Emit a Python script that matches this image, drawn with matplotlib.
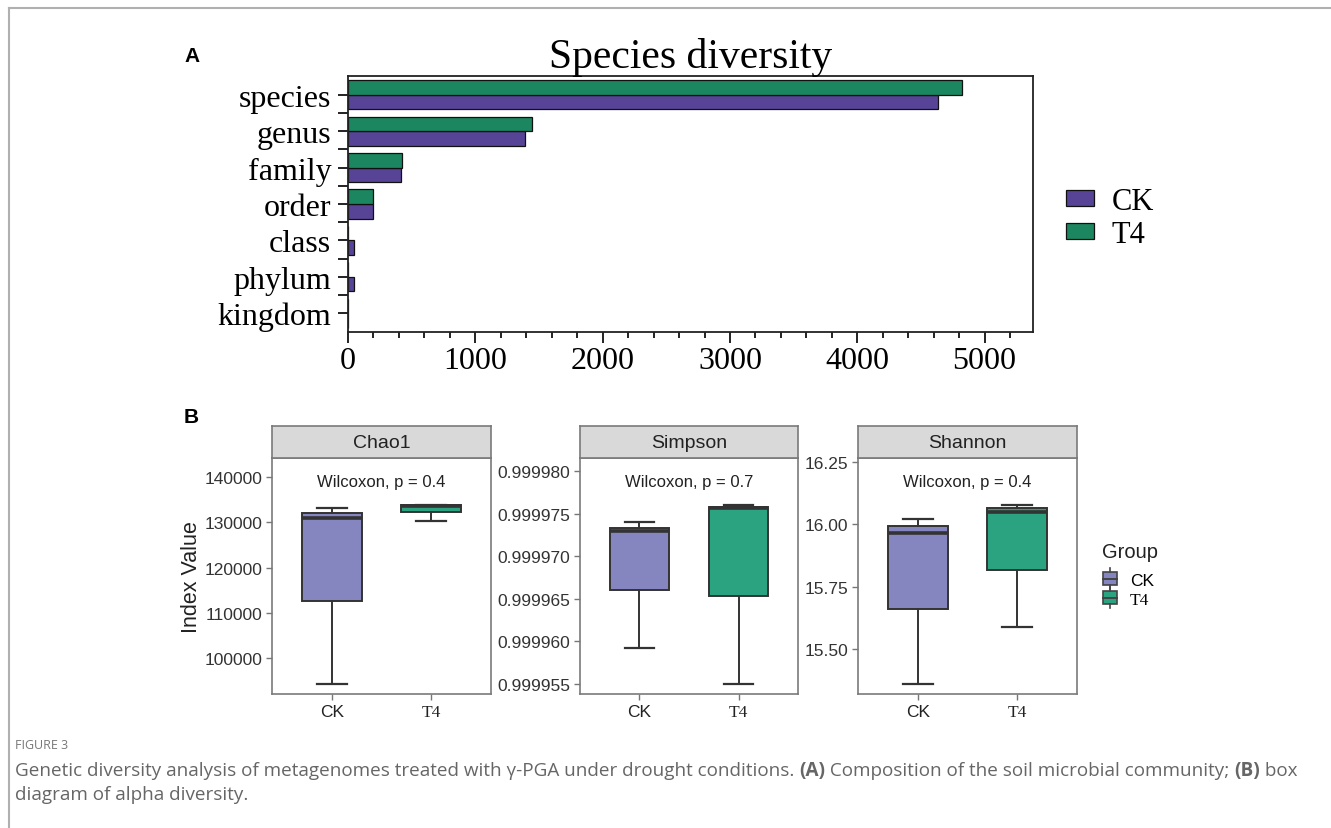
import numpy as np
import matplotlib
matplotlib.use("Agg")
import matplotlib.pyplot as plt
from matplotlib.patches import Patch, Rectangle
from matplotlib.lines import Line2D
from matplotlib.legend_handler import HandlerBase
from matplotlib.ticker import FixedLocator, MultipleLocator, FormatStrFormatter

# ---- panel A: number of taxa at each rank ----
ranks = ["kingdom", "phylum", "class", "order", "family", "genus", "species"]
ck_counts = [2, 47, 47, 197, 417, 1394, 4630]
t4_counts = [2, 0, 0, 197, 425, 1449, 4820]

# ---- panel B: alpha diversity box stats (whislo, q1, med, q3, whishi) ----
groups = ["CK", "T4"]
indices = ["Chao1", "Simpson", "Shannon"]
chao1_ck = [94300, 112600, 130950, 132050, 133150]
chao1_t4 = [130300, 132300, 133700, 133800, 133800]
simpson_ck = [0.99995926, 0.99996607, 0.99997296, 0.99997331, 0.99997405]
simpson_t4 = [0.99995497, 0.99996536, 0.99997562, 0.99997581, 0.99997601]
shannon_ck = [15.36, 15.661, 15.963, 15.991, 16.02]
shannon_t4 = [15.589, 15.817, 16.048, 16.063, 16.076]
p_values = ["0.4", "0.7", "0.4"]

chao1_ticks = [100000, 110000, 120000, 130000, 140000]
simpson_ticks = [0.999955, 0.99996, 0.999965, 0.99997, 0.999975, 0.99998]
shannon_ticks = [15.50, 15.75, 16.00, 16.25]

SERIF = "Liberation Serif"
SANS = "Liberation Sans"

fig = plt.figure(figsize=(13.31, 8.29), dpi=100)
W, H = 1331, 829


def box(x0, y0, x1, y1):
    # pixel box (top-left origin) -> figure rect
    return [x0 / W, 1 - y1 / H, (x1 - x0) / W, (y1 - y0) / H]


# page frame lines
fig.add_artist(Line2D([9 / W, 1], [1 - 9 / H, 1 - 9 / H], color="#b0b0b0", lw=1.5))
fig.add_artist(Line2D([9 / W, 9 / W], [0, 1 - 9 / H], color="#b0b0b0", lw=1.5))

# ================= Panel A =================
axA = fig.add_axes(box(348, 77, 1033, 333))
y = np.arange(len(ranks))
hA = 0.4
ck_col, t4_col = "#574497", "#1C8660"
axA.barh(y - hA / 2, ck_counts, height=hA, color=ck_col, edgecolor="#111111", lw=0.9, label="CK")
axA.barh(y + hA / 2, t4_counts, height=hA, color=t4_col, edgecolor="#111111", lw=0.9, label="T4")
axA.set_xlim(0, 5380)
axA.set_ylim(-0.52, len(ranks) - 0.48)
axA.set_yticks(y)
axA.set_yticklabels(ranks, fontfamily=SERIF, fontsize=23)
axA.yaxis.set_minor_locator(FixedLocator(np.arange(0.5, len(ranks) - 1, 1.0)))
axA.xaxis.set_major_locator(MultipleLocator(1000))
axA.xaxis.set_minor_locator(MultipleLocator(200))
for lab in axA.get_xticklabels():
    lab.set_fontfamily(SERIF)
    lab.set_fontsize(23)
axA.tick_params(axis="both", which="both", direction="out", width=1.4, color="#222222")
axA.tick_params(axis="y", which="both", length=7, pad=5)
axA.tick_params(axis="x", which="major", length=8, pad=2)
axA.tick_params(axis="x", which="minor", length=4)
for s in axA.spines.values():
    s.set_linewidth(1.3)
    s.set_color("#222222")
axA.set_title("Species diversity", fontfamily=SERIF, fontsize=30, pad=1)
hs, ls = axA.get_legend_handles_labels()
fig.legend(hs, ls, loc="upper left", bbox_to_anchor=(1066 / W, 1 - 188 / H), frameon=False,
           prop={"family": SERIF, "size": 22}, handlelength=0.9, handleheight=0.45,
           handletextpad=0.6, labelspacing=0.12, borderpad=0, borderaxespad=0)
fig.text(184 / W, 1 - 57 / H, "A", fontfamily=SANS, fontweight="bold", fontsize=15, va="center")

# ================= Panel B =================
box_cols = {"CK": "#8585BF", "T4": "#2BA380"}
panel_x = [(272, 491), (580, 798), (858, 1077)]
stats_all = [(chao1_ck, chao1_t4), (simpson_ck, simpson_t4), (shannon_ck, shannon_t4)]
ylims = [(92060, 144200), (0.99995383, 0.99998153), (15.32, 16.265)]
ticks_all = [chao1_ticks, simpson_ticks, shannon_ticks]
fmts = ["%d", "%.6f", "%.2f"]

for i, name in enumerate(indices):
    x0, x1 = panel_x[i]
    ax = fig.add_axes(box(x0, 459, x1, 695))
    bstats = []
    for g, vals in zip(groups, stats_all[i]):
        lo, q1, med, q3, hi = vals
        bstats.append({"whislo": lo, "q1": q1, "med": med, "q3": q3, "whishi": hi,
                       "fliers": [], "label": g})
    art = ax.bxp(bstats, positions=[1, 2], widths=0.6, capwidths=0.3, patch_artist=True,
                 showfliers=False,
                 boxprops=dict(edgecolor="#333333", linewidth=1.4),
                 medianprops=dict(color="#333333", linewidth=2.6, solid_capstyle="butt"),
                 whiskerprops=dict(color="#333333", linewidth=1.4),
                 capprops=dict(color="#333333", linewidth=1.6))
    for patch, g in zip(art["boxes"], groups):
        patch.set_facecolor(box_cols[g])
    ax.set_xlim(0.4, 2.6)
    ax.set_ylim(*ylims[i])
    ax.yaxis.set_major_locator(FixedLocator(ticks_all[i]))
    ax.yaxis.set_major_formatter(FormatStrFormatter(fmts[i]))
    ax.set_xticks([1, 2])
    ax.set_xticklabels(groups)
    xl = ax.get_xticklabels()
    xl[0].set_fontfamily(SANS)
    xl[1].set_fontfamily(SERIF)
    for lab in xl:
        lab.set_fontsize(12.5)
        lab.set_color("#222222")
    for lab in ax.get_yticklabels():
        lab.set_fontfamily(SANS)
        lab.set_fontsize(12.5)
        lab.set_color("#333333")
    ax.tick_params(axis="both", length=4, width=1, color="#777777", pad=3)
    for s in ax.spines.values():
        s.set_color("#7a7a7a")
        s.set_linewidth(1.2)
    ax.text(0.5, 0.9, "Wilcoxon, p = " + p_values[i], transform=ax.transAxes, ha="center",
            va="center", fontfamily=SANS, fontsize=12, color="#222222")
    # facet strip
    sx = fig.add_axes(box(x0, 427, x1, 459))
    sx.set_facecolor("#D9D9D9")
    sx.set_xticks([])
    sx.set_yticks([])
    for s in sx.spines.values():
        s.set_color("#7a7a7a")
        s.set_linewidth(1.2)
    sx.text(0.5, 0.47, name, transform=sx.transAxes, ha="center", va="center",
            fontfamily=SANS, fontsize=14, color="#222222")
    if i == 0:
        ax.set_ylabel("Index Value", fontfamily=SANS, fontsize=15.5, color="#222222", labelpad=2)

fig.text(184 / W, 1 - 418 / H, "B", fontfamily=SANS, fontweight="bold", fontsize=15, va="center")


class BoxKey(HandlerBase):
    # small boxplot glyph for the group legend
    def create_artists(self, legend, orig, xd, yd, width, height, fontsize, trans):
        fc = orig.get_facecolor()
        cx = xd + width / 2
        r = Rectangle((xd, yd), width, height, facecolor=fc, edgecolor="#444444", lw=1.2,
                      transform=trans)
        med = Line2D([xd, xd + width], [yd + height / 2] * 2, color="#444444", lw=1.4,
                     transform=trans)
        up = Line2D([cx, cx], [yd + height, yd + height + 3], color="#444444", lw=1.2,
                    transform=trans)
        dn = Line2D([cx, cx], [yd - 3, yd], color="#444444", lw=1.2, transform=trans)
        return [r, med, up, dn]


fig.text(1102 / W, 1 - 553 / H, "Group", fontfamily=SANS, fontsize=14.5, color="#222222",
         va="center")
key_handles = [Patch(facecolor=box_cols[g]) for g in groups]
legB = fig.legend(key_handles, groups, loc="upper left", bbox_to_anchor=(1103 / W, 1 - 574 / H),
                  frameon=False, handler_map={Patch: BoxKey()},
                  prop={"family": SANS, "size": 12.5}, handlelength=0.8, handleheight=0.75,
                  handletextpad=0.75, labelspacing=0.2, borderpad=0, borderaxespad=0)
legB.get_texts()[1].set_fontfamily(SERIF)

# ================= caption =================
cap_col = "#666666"
fig.text(15 / W, 1 - 746 / H, "FIGURE 3", fontfamily="Open Sans", fontsize=9, color="#777777",
         va="center")

fig.canvas.draw()
renderer = fig.canvas.get_renderer()


def text_run(x_px, y_px, pieces, size):
    # draw mixed-weight text pieces one after the other on a line
    for txt, bold in pieces:
        t = fig.text(x_px / W, 1 - y_px / H, txt, fontfamily="Open Sans", fontsize=size,
                     color=cap_col, va="center", fontweight="bold" if bold else "normal")
        x_px += t.get_window_extent(renderer).width


cap_size = 13.6
text_run(15, 771, [("Genetic diversity analysis of metagenomes treated with \u03b3-PGA under drought conditions. ", False),
                   ("(A)", True), (" Composition of the soil microbial community; ", False),
                   ("(B)", True), (" box", False)], cap_size)
text_run(15, 795, [("diagram of alpha diversity.", False)], cap_size)

fig.savefig("out.png", dpi=100)
